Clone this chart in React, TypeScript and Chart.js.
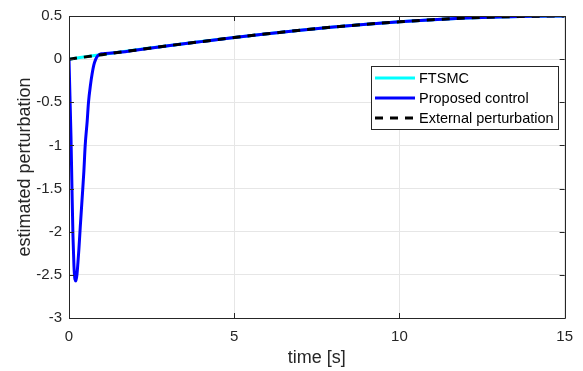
import React, { useEffect, useRef } from "react";
import { Chart, registerables } from "chart.js";

Chart.register(...registerables);

// ---- data ----
const perturbationTime = [0, 1, 2, 3, 4, 5, 6, 7, 8, 9, 10, 11, 12, 13, 14, 15];
const externalPerturbation = [0, 0.052, 0.104, 0.155, 0.203, 0.25, 0.294, 0.335, 0.372, 0.405, 0.433, 0.457, 0.476, 0.489, 0.497, 0.5];

const ftsmcTime = [0, 1, 2, 3, 4, 5, 6, 7, 8, 9, 10, 11, 12, 13, 14, 15];
const ftsmcValues = [0, 0.054, 0.105, 0.156, 0.204, 0.25, 0.294, 0.335, 0.372, 0.405, 0.433, 0.457, 0.476, 0.489, 0.497, 0.5];

const proposedTime = [0, 0.03, 0.06, 0.09, 0.12, 0.15, 0.18, 0.21, 0.24, 0.27, 0.3, 0.34, 0.4, 0.45, 0.49, 0.55, 0.59, 0.65, 0.7, 0.75, 0.81, 0.87, 0.93, 1.0, 1.1, 1.3, 1.6, 2, 3, 4, 5, 6, 7, 8, 9, 10, 11, 12, 13, 14, 15];
const proposedValues = [0, -0.45, -0.9, -1.5, -2.05, -2.4, -2.55, -2.57, -2.5, -2.36, -2.2, -1.95, -1.6, -1.3, -1.0, -0.72, -0.5, -0.3, -0.17, -0.07, 0.0, 0.04, 0.055, 0.062, 0.066, 0.07, 0.082, 0.104, 0.155, 0.203, 0.25, 0.294, 0.335, 0.372, 0.405, 0.433, 0.457, 0.476, 0.489, 0.497, 0.5];

const seriesLabels = ["FTSMC", "Proposed control", "External perturbation"];
const xTickValues = [0, 5, 10, 15];
const yTickValues = [0.5, 0, -0.5, -1, -1.5, -2, -2.5, -3];
const xAxisTitle = "time [s]";
const yAxisTitle = "estimated perturbation";

const FONT = "'Liberation Sans', Arial, Helvetica, sans-serif";
const AXIS_COLOR = "#262626";

const toPoints = (xs: number[], ys: number[]) => xs.map((x, i) => ({ x, y: ys[i] }));

const framePlugin = {
  id: "matlabFrame",
  afterDatasetsDraw(chart: any) {
    const { ctx, chartArea } = chart;
    const { left, right, top, bottom } = chartArea;
    const xs = chart.scales.x;
    const ys = chart.scales.y;
    const tl = 5;
    ctx.save();
    ctx.strokeStyle = AXIS_COLOR;
    ctx.lineWidth = 1;
    ctx.beginPath();
    ctx.rect(Math.round(left) + 0.5, Math.round(top) + 0.5, Math.round(right - left), Math.round(bottom - top));
    for (const v of xTickValues) {
      const p = Math.round(xs.getPixelForValue(v)) + 0.5;
      ctx.moveTo(p, bottom);
      ctx.lineTo(p, bottom - tl);
      ctx.moveTo(p, top);
      ctx.lineTo(p, top + tl);
    }
    for (const v of yTickValues) {
      const p = Math.round(ys.getPixelForValue(v)) + 0.5;
      ctx.moveTo(left, p);
      ctx.lineTo(left + tl, p);
      ctx.moveTo(right, p);
      ctx.lineTo(right - tl, p);
    }
    ctx.stroke();
    ctx.restore();
  },
};

const legendPlugin = {
  id: "matlabLegend",
  afterDraw(chart: any) {
    const { ctx } = chart;
    const boxL = 371, boxT = 66, boxR = 558, boxB = 129;
    ctx.save();
    ctx.fillStyle = "#ffffff";
    ctx.fillRect(boxL, boxT, boxR - boxL, boxB - boxT);
    ctx.strokeStyle = AXIS_COLOR;
    ctx.lineWidth = 1;
    ctx.strokeRect(boxL + 0.5, boxT + 0.5, boxR - boxL, boxB - boxT);
    ctx.font = `14.5px ${FONT}`;
    ctx.textBaseline = "middle";
    ctx.textAlign = "left";
    chart.data.datasets.forEach((ds: any, i: number) => {
      const y = 78 + i * 20;
      ctx.beginPath();
      ctx.strokeStyle = ds.borderColor;
      ctx.lineWidth = ds.borderWidth;
      ctx.setLineDash(ds.borderDash || []);
      ctx.moveTo(375, y);
      ctx.lineTo(415, y);
      ctx.stroke();
      ctx.setLineDash([]);
      ctx.fillStyle = "#000000";
      ctx.fillText(ds.label, 419, y + 0.5);
    });
    ctx.restore();
  },
};

export default function App() {
  const canvasRef = useRef<HTMLCanvasElement | null>(null);

  useEffect(() => {
    if (!canvasRef.current) return;
    const chart = new Chart(canvasRef.current, {
      type: "line",
      data: {
        datasets: [
          {
            label: seriesLabels[0],
            data: toPoints(ftsmcTime, ftsmcValues),
            borderColor: "#00ffff",
            borderWidth: 3,
            pointRadius: 0,
            cubicInterpolationMode: "monotone",
            order: 2,
          },
          {
            label: seriesLabels[1],
            data: toPoints(proposedTime, proposedValues),
            borderColor: "#0000ff",
            borderWidth: 3,
            pointRadius: 0,
            cubicInterpolationMode: "monotone",
            order: 1,
          },
          {
            label: seriesLabels[2],
            data: toPoints(perturbationTime, externalPerturbation),
            borderColor: "#000000",
            borderWidth: 3,
            borderDash: [8, 7],
            pointRadius: 0,
            cubicInterpolationMode: "monotone",
            order: 0,
          },
        ],
      },
      options: {
        animation: false,
        responsive: true,
        maintainAspectRatio: false,
        layout: { padding: { left: 0, top: 15, right: 16, bottom: 0 } },
        plugins: { legend: { display: false }, tooltip: { enabled: false } },
        scales: {
          x: {
            type: "linear",
            min: 0,
            max: 15,
            afterBuildTicks: (s: any) => {
              s.ticks = xTickValues.map((v) => ({ value: v }));
            },
            afterFit: (s: any) => {
              s.height = 53;
            },
            grid: { color: "#e6e6e6", drawTicks: false },
            border: { display: false },
            ticks: {
              padding: 10,
              color: AXIS_COLOR,
              font: { family: FONT, size: 15 },
              maxRotation: 0,
              callback: (v: any) => String(v),
            },
            title: {
              display: true,
              text: xAxisTitle,
              color: AXIS_COLOR,
              font: { family: FONT, size: 18 },
              padding: { top: 0, bottom: 2 },
            },
          },
          y: {
            type: "linear",
            min: -3,
            max: 0.5,
            afterBuildTicks: (s: any) => {
              s.ticks = yTickValues.map((v) => ({ value: v }));
            },
            afterFit: (s: any) => {
              s.width = 69;
            },
            grid: { color: "#e6e6e6", drawTicks: false },
            border: { display: false },
            ticks: {
              padding: 7,
              color: AXIS_COLOR,
              font: { family: FONT, size: 15 },
              callback: (v: any) => String(v),
            },
            title: {
              display: true,
              text: yAxisTitle,
              color: AXIS_COLOR,
              font: { family: FONT, size: 18 },
              padding: { top: 14, bottom: 0 },
            },
          },
        },
      },
      plugins: [framePlugin, legendPlugin],
    });
    return () => chart.destroy();
  }, []);

  return (
    <div style={{ position: "fixed", left: 0, top: 0, width: 583, height: 371, background: "#ffffff" }}>
      <canvas ref={canvasRef} />
    </div>
  );
}
